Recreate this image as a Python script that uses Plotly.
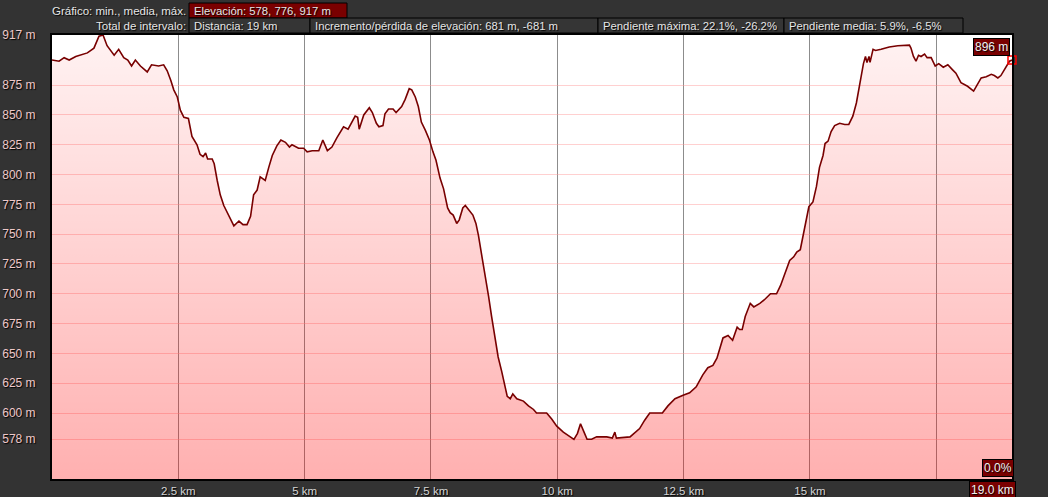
import plotly.graph_objects as go

# ---- data ----
distance_km = [
    0.00, 0.14, 0.24, 0.34, 0.47, 0.60, 0.70, 0.83, 0.93, 1.01, 1.09, 1.23, 1.32, 1.42, 1.50,
    1.575, 1.65, 1.75, 1.885, 1.97, 2.11, 2.21, 2.28, 2.35, 2.41, 2.48, 2.54, 2.61, 2.70, 2.77,
    2.87, 2.93, 2.99, 3.04, 3.08, 3.17, 3.21, 3.27, 3.33, 3.40, 3.50, 3.60, 3.70, 3.78, 3.86,
    3.93, 3.99, 4.06, 4.12, 4.22, 4.29, 4.36, 4.45, 4.53, 4.62, 4.70, 4.75, 4.88, 4.98, 5.05,
    5.15, 5.28, 5.36, 5.45, 5.54, 5.64, 5.77, 5.86, 6.00, 6.05, 6.08, 6.17, 6.28, 6.34, 6.42,
    6.47, 6.55, 6.59, 6.66, 6.75, 6.81, 6.92, 6.99, 7.07, 7.12, 7.19, 7.25, 7.31, 7.39, 7.47,
    7.54, 7.60, 7.68, 7.75, 7.83, 7.88, 7.94, 8.01, 8.06, 8.13, 8.18, 8.26, 8.33, 8.39, 8.44,
    8.51, 8.57, 8.64, 8.70, 8.77, 8.83, 8.90, 8.97, 9.01, 9.07, 9.12, 9.20, 9.33, 9.43, 9.53,
    9.59, 9.79, 9.89, 9.99, 10.12, 10.25, 10.33, 10.40, 10.46, 10.53, 10.59, 10.68, 10.78, 10.98, 11.09,
    11.14, 11.17, 11.44, 11.54, 11.63, 11.73, 11.83, 12.03, 12.08, 12.19, 12.33, 12.49, 12.62, 12.75, 12.88,
    12.98, 13.08, 13.16, 13.28, 13.38, 13.47, 13.56, 13.61, 13.66, 13.72, 13.82, 13.89, 14.01, 14.10, 14.22,
    14.34, 14.42, 14.50, 14.60, 14.68, 14.74, 14.81, 14.88, 14.93, 14.98, 15.06, 15.13, 15.19, 15.26, 15.30,
    15.36, 15.42, 15.49, 15.59, 15.69, 15.77, 15.85, 15.92, 15.97, 16.02, 16.06, 16.10, 16.13, 16.17, 16.19,
    16.25, 16.30, 16.41, 16.57, 16.74, 16.87, 16.97, 17.00, 17.05, 17.10, 17.15, 17.20, 17.27, 17.32, 17.40,
    17.48, 17.55, 17.64, 17.73, 17.82, 17.89, 17.99, 18.12, 18.24, 18.30, 18.39, 18.49, 18.59, 18.65, 18.72,
    18.78, 18.88, 18.95, 19.00,
]
elevation_m = [
    896, 895, 898, 896, 899, 901, 902, 906, 916, 917, 908, 900, 905, 898, 896,
    891, 896, 891, 886, 892, 891, 892, 887, 879, 871, 865, 854, 848, 847, 832,
    825, 817, 815, 818, 813, 813, 809, 795, 783, 774, 766, 757, 761, 758, 758,
    765, 783, 787, 798, 795, 806, 816, 824, 829, 827, 823, 825, 822, 822, 819,
    820, 820, 829, 820, 823, 831, 840, 838, 849, 848, 838, 850, 856, 852, 843,
    840, 841, 851, 855, 855, 852, 857, 863, 872, 871, 865, 857, 844, 837, 829,
    819, 812, 797, 788, 772, 768, 766, 759, 762, 772, 774, 770, 766, 759, 749,
    731, 717, 698, 681, 664, 647, 635, 622, 614, 612, 616, 612, 610, 606, 603,
    600, 600, 595, 589, 584, 580, 578, 583, 591, 584, 578, 578, 580, 580, 579,
    584, 579, 580, 584, 587, 594, 600, 600, 600, 606, 612, 615, 617, 622, 632,
    638, 640, 646, 663, 665, 661, 672, 670, 670, 681, 692, 689, 692, 695, 700,
    700, 707, 717, 728, 731, 735, 737, 751, 762, 773, 777, 790, 806, 816, 826,
    828, 836, 841, 843, 842, 842, 849, 860, 871, 885, 893, 899, 894, 899, 894,
    905, 904, 905, 907, 908, 908, 908.5, 906, 899, 895, 900, 899, 901, 898, 898,
    891, 893, 890, 892, 888, 885, 877, 874, 870, 874, 881, 882, 884, 883, 881,
    883, 890, 895, 896,
]

y_tick_values = [578, 600, 625, 650, 675, 700, 725, 750, 775, 800, 825, 850, 875, 917]
y_tick_labels = [f"{v} m" for v in y_tick_values]
x_tick_values = [2.5, 5, 7.5, 10, 12.5, 15, 17.5]
x_tick_labels = ["2.5 km", "5 km", "7.5 km", "10 km", "12.5 km", "15 km", ""]

header_row1_label = "Gráfico: min., media, máx."
header_row1_boxes = ["Elevación: 578, 776, 917 m"]
header_row2_label = "Total de intervalo:"
header_row2_boxes = [
    "Distancia: 19 km",
    "Incremento/pérdida de elevación: 681 m, -681 m",
    "Pendiente máxima: 22.1%, -26.2%",
    "Pendiente media: 5.9%, -6.5%",
]
end_slope_label = "0.0%"
end_dist_label = "19.0 km"

# ---- layout geometry ----
W, H = 1048, 497
ML, MR, MT, MB = 52, 36, 35, 18
PW, PH = W - ML - MR, H - MT - MB
Y_MIN, Y_MAX = 544.7, 917


def px(x):
    return (x - ML) / PW


def py(y):
    return (H - MB - y) / PH


FONT = "Liberation Sans, Arial, sans-serif"
SHADOW = "1px 1px 1px #000000"

fig = go.Figure()

fig.add_trace(go.Scatter(
    x=distance_km, y=elevation_m,
    mode="lines",
    line=dict(color="#780000", width=1.6),
    fill="tozeroy",
    fillgradient=dict(
        type="vertical",
        start=Y_MIN, stop=Y_MAX,
        colorscale=[[0, "rgba(255,0,0,0.31)"], [1, "rgba(255,0,0,0.05)"]],
    ),
    hoverinfo="skip",
    showlegend=False,
))

fig.add_trace(go.Scatter(
    x=distance_km[-1:], y=elevation_m[-1:],
    mode="markers",
    marker=dict(symbol="square-open", size=8, color="#ff0000", line=dict(width=1.5, color="#ff0000")),
    cliponaxis=False,
    hoverinfo="skip",
    showlegend=False,
))

shapes = []
annotations = []

# header rows
row1 = (3, 18)
row2 = (18, 33)
box_edges_row1 = [189, 347]
box_edges_row2 = [189, 310, 598, 784, 963]


def add_box(x0, x1, rows, text, fill):
    y0, y1 = rows
    shapes.append(dict(type="rect", xref="paper", yref="paper",
                       x0=px(x0), x1=px(x1), y0=py(y1), y1=py(y0),
                       fillcolor=fill, line=dict(color="#000000", width=1), layer="above"))
    annotations.append(dict(xref="paper", yref="paper", x=px(x0 + 3), y=py((y0 + y1) / 2),
                            xanchor="left", yanchor="middle", showarrow=False, text=text,
                            font=dict(family=FONT, size=11.3, color="#e6e6e6", shadow=SHADOW)))


add_box(box_edges_row1[0], box_edges_row1[1], row1, header_row1_boxes[0], "#7a0000")
for i, t in enumerate(header_row2_boxes):
    add_box(box_edges_row2[i], box_edges_row2[i + 1], row2, t, "#353535")

for txt, rows in [(header_row1_label, row1), (header_row2_label, row2)]:
    annotations.append(dict(xref="paper", yref="paper", x=px(188), y=py((rows[0] + rows[1]) / 2),
                            xanchor="right", yanchor="middle", showarrow=False, text=txt,
                            font=dict(family=FONT, size=11.5, color="#e6e6e6", shadow=SHADOW)))

# end-point value label
annotations.append(dict(x=distance_km[-1], y=elevation_m[-1], xref="x", yref="y",
                        xanchor="right", yanchor="bottom", xshift=-2, yshift=4,
                        showarrow=False, text=f"{elevation_m[-1]:.0f} m",
                        bgcolor="#7a0000", bordercolor="#000000", borderwidth=1, borderpad=1,
                        font=dict(family=FONT, size=12, color="#f0f0f0", shadow=SHADOW)))
annotations.append(dict(x=1, y=0, xref="paper", yref="paper",
                        xanchor="right", yanchor="bottom", xshift=2, yshift=2,
                        showarrow=False, text=end_slope_label,
                        bgcolor="#7a0000", bordercolor="#000000", borderwidth=1, borderpad=1,
                        font=dict(family=FONT, size=12, color="#f0f0f0", shadow=SHADOW)))
annotations.append(dict(x=1, y=0, xref="paper", yref="paper",
                        xanchor="right", yanchor="top", xshift=4, yshift=-2,
                        showarrow=False, text=end_dist_label,
                        bgcolor="#7a0000", bordercolor="#000000", borderwidth=1, borderpad=1,
                        font=dict(family=FONT, size=12, color="#f0f0f0", shadow=SHADOW)))

fig.update_layout(
    width=W, height=H,
    margin=dict(l=ML, r=MR, t=MT, b=MB, pad=0, autoexpand=False),
    paper_bgcolor="#333333",
    plot_bgcolor="#ffffff",
    shapes=shapes,
    annotations=annotations,
    xaxis=dict(
        range=[0, 19], tickmode="array", tickvals=x_tick_values, ticktext=x_tick_labels,
        showgrid=True, gridcolor="#8c8c8c", gridwidth=1, zeroline=False,
        showline=True, linecolor="#000000", linewidth=2, mirror=True, ticks="",
        tickfont=dict(family=FONT, size=11.5, color="#d6d6d6", shadow=SHADOW),
        automargin=False, fixedrange=True,
    ),
    yaxis=dict(
        range=[Y_MIN, Y_MAX], tickmode="array", tickvals=y_tick_values, ticktext=y_tick_labels,
        showgrid=True, gridcolor="rgba(255,150,150,0.45)", gridwidth=1, zeroline=False,
        showline=True, linecolor="#000000", linewidth=2, mirror=True, ticks="",
        ticklabelstandoff=12,
        tickfont=dict(family=FONT, size=12, color="#efc9c9", shadow=SHADOW),
        automargin=False, fixedrange=True,
    ),
)

fig.write_html(
    "out.html",
    config={"displayModeBar": False, "responsive": False},
    post_script="document.body.style.margin='0';document.body.style.background='#333333';"
                "document.body.style.overflow='hidden';",
)
